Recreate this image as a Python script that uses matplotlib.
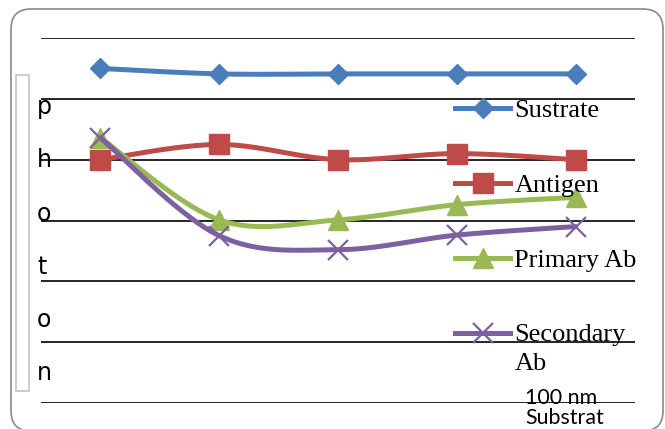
import numpy as np
import matplotlib
matplotlib.use("Agg")
import matplotlib.pyplot as plt
from matplotlib.lines import Line2D
from matplotlib.patches import FancyBboxPatch, Rectangle
from matplotlib.transforms import IdentityTransform
from matplotlib.legend_handler import HandlerLine2D

# ---- data -------------------------------------------------------------
stages = ["1", "2", "3", "4", "5"]
series_names = ["Sustrate", "Antigen", "Primary Ab", "Secondary\nAb"]
sustrate = [55.0, 54.1, 54.1, 54.1, 54.1]
antigen = [40.0, 42.5, 40.0, 41.0, 40.0]
primary_ab = [43.6, 30.1, 30.1, 32.6, 33.8]
secondary_ab = [43.6, 27.5, 25.2, 27.6, 29.0]
y_ticks = [0, 10, 20, 30, 40, 50, 60]
axis_title = "photon"
x_title = "100 nm\nSubstrat"

# ---- styles -----------------------------------------------------------
styles = [
    dict(color="#4A7EBB", marker="D", ms=10.0, mew=1.0),
    dict(color="#BE4B48", marker="s", ms=14.0, mew=1.0),
    dict(color="#98B954", marker="^", ms=14.0, mew=1.0),
    dict(color="#7D60A0", marker="x", ms=14.0, mew=1.6),
]
LW = 3.6

W, H = 665, 429
fig = plt.figure(figsize=(W / 100, H / 100), dpi=100)


def fx(px):
    return px / W


def fy(py):
    return 1 - py / H


ax = fig.add_axes([fx(41), fy(403), fx(635) - fx(41), fy(38) - fy(403)])
ax.set_facecolor("none")
ax.set_xlim(-0.5, len(stages) - 0.5)
ax.set_ylim(y_ticks[0], y_ticks[-1])
ax.set_yticks(y_ticks)
ax.set_xticks(range(len(stages)))
ax.tick_params(length=0, labelleft=False, labelbottom=False)
for s in ax.spines.values():
    s.set_visible(False)
ax.grid(axis="y", color="black", lw=1.2)
ax.set_axisbelow(True)


def smooth(xs, ys, n=40):
    """Cubic Bezier smoothing through every point (Catmull-Rom style)."""
    p = np.column_stack([xs, ys]).astype(float)
    ext = np.vstack([p[0], p, p[-1]])
    t = np.linspace(0, 1, n)[:, None]
    parts = []
    for i in range(len(p) - 1):
        p0, p1 = ext[i + 1], ext[i + 2]
        c1 = p0 + (ext[i + 2] - ext[i]) / 6
        c2 = p1 - (ext[i + 3] - ext[i + 1]) / 6
        seg = ((1 - t) ** 3) * p0 + 3 * ((1 - t) ** 2) * t * c1 \
            + 3 * (1 - t) * t ** 2 * c2 + t ** 3 * p1
        parts.append(seg if i == 0 else seg[1:])
    return np.vstack(parts)


xs = np.arange(len(stages))
handles = []
for vals, st in zip([sustrate, antigen, primary_ab, secondary_ab], styles):
    curve = smooth(xs, vals)
    ax.plot(curve[:, 0], curve[:, 1], color=st["color"], lw=LW,
            solid_capstyle="round", clip_on=False)
    ax.plot(xs, vals, ls="none", marker=st["marker"], ms=st["ms"],
            mew=st["mew"], color=st["color"], mec=st["color"], clip_on=False)
    handles.append(Line2D([], [], color=st["color"], lw=LW,
                          marker=st["marker"], ms=st["ms"], mew=st["mew"],
                          mec=st["color"]))


class RaisedHandler(HandlerLine2D):
    """Line handle lifted to sit beside the first line of a wrapped label."""

    def __init__(self, rise, **kw):
        super().__init__(**kw)
        self.rise = rise

    def create_artists(self, legend, orig_handle, xdescent, ydescent,
                       width, height, fontsize, trans):
        arts = super().create_artists(legend, orig_handle, xdescent, ydescent,
                                      width, height, fontsize, trans)
        for a in arts:
            a.set_ydata(np.asarray(a.get_ydata(), float) + self.rise)
        return arts


leg = fig.legend(handles, series_names, loc="upper left",
                 bbox_to_anchor=(fx(455), fy(99)),
                 prop=dict(family="Liberation Serif", size=19),
                 frameon=False, numpoints=1, handlelength=2.1,
                 handletextpad=0.15, labelspacing=1.95, borderpad=0,
                 borderaxespad=0,
                 handler_map={handles[3]: RaisedHandler(11.5)})
for t in leg.get_texts():
    t.set_linespacing(1.45)

# vertical axis title, one letter per line
for i, ch in enumerate(axis_title):
    fig.text(fx(37), fy(114 + 53.3 * i), ch, family="DejaVu Sans",
             fontsize=17, ha="left", va="baseline")

# category axis caption, one text per wrapped line
for i, line in enumerate(x_title.split("\n")):
    fig.text(fx(525), fy(404 + 20 * i), line, family="Lato", fontsize=15.4,
             ha="left", va="baseline")

# chart frame and title frame
fig.add_artist(FancyBboxPatch((11, -2), 652, 422,
                              boxstyle="round,pad=0,rounding_size=20",
                              transform=IdentityTransform(),
                              fc="none", ec="#8A8A8A", lw=1.2))
fig.add_artist(Rectangle((16, H - 391), 13, 316, transform=IdentityTransform(),
                         fc="none", ec="#C8C8C8", lw=1.3))

fig.savefig("out.png", dpi=100)
